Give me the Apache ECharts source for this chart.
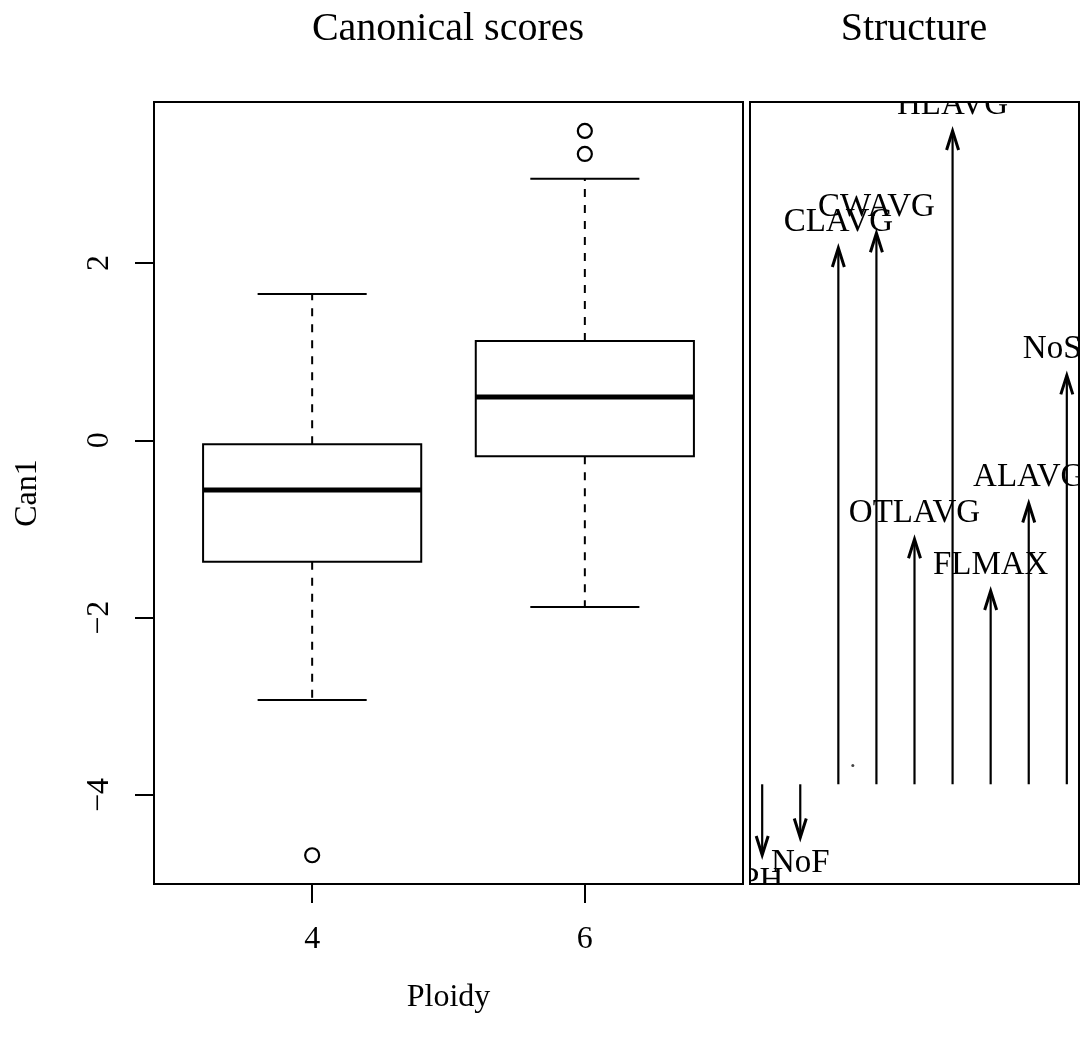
<!DOCTYPE html>
<html><head><meta charset="utf-8">
<script src="https://cdn.jsdelivr.net/npm/echarts@6/dist/echarts.min.js"></script>
<style>html,body{margin:0;padding:0;background:#fff}#c{width:1081px;height:1038px}</style>
</head><body><div id="c"></div>
<script>
// ---- data ----
const ploidyLevels = ['4', '6'];
const whiskerLow  = [-2.93, -1.88];
const q1          = [-1.37, -0.18];
const medians     = [-0.56, 0.49];
const q3          = [-0.045, 1.12];
const whiskerHigh = [1.65, 2.95];
const outlierGroup  = [0, 1, 1];
const outlierValues = [-4.68, 3.23, 3.49];
const yTicks = [-4, -2, 0, 2];

const structVars = ['PH', 'NoF', 'CLAVG', 'CWAVG', 'OTLAVG', 'HLAVG', 'FLMAX', 'ALAVG', 'NoSM'];
const structCoef = [-0.101, -0.076, 0.766, 0.787, 0.350, 0.933, 0.276, 0.401, 0.584];
const originDot = [[3.38, 0.027]];

// ---- build ----
const FONT = 'Liberation Serif';
const boxData = ploidyLevels.map((p, i) => [i + 1, whiskerLow[i], q1[i], medians[i], q3[i], whiskerHigh[i]]);
const outlierData = outlierValues.map((v, i) => [outlierGroup[i] + 1, v]);
const structData = structVars.map((n, i) => [i + 1, structCoef[i]]);

function renderBox(params, api) {
  const x = api.value(0), wl = api.value(1), lo = api.value(2), md = api.value(3), hi = api.value(4), wh = api.value(5);
  const bw = 0.4, sw = 0.2;
  const p = (a, b) => api.coord([a, b]);
  const ln = (a, b, w, dash) => ({
    type: 'line',
    shape: { x1: a[0], y1: a[1], x2: b[0], y2: b[1] },
    style: { stroke: '#000', lineWidth: w, lineDash: dash || null }
  });
  const tl = p(x - bw, hi), br = p(x + bw, lo);
  return {
    type: 'group',
    children: [
      ln(p(x, hi), p(x, wh), 2, [8, 8]),
      ln(p(x, lo), p(x, wl), 2, [8, 8]),
      ln(p(x - sw, wh), p(x + sw, wh), 2),
      ln(p(x - sw, wl), p(x + sw, wl), 2),
      { type: 'rect', shape: { x: tl[0], y: tl[1], width: br[0] - tl[0], height: br[1] - tl[1] },
        style: { stroke: '#000', lineWidth: 2, fill: 'none' } },
      ln(p(x - bw, md), p(x + bw, md), 5)
    ]
  };
}

function renderArrow(params, api) {
  const x = api.value(0), v = api.value(1);
  const name = structVars[params.dataIndex];
  const b = api.coord([x, 0]), t = api.coord([x, v]);
  const dir = v >= 0 ? 1 : -1;
  const hl = 19, hw = 6;
  const wy = t[1] + dir * hl;
  return {
    type: 'group',
    children: [
      { type: 'line', shape: { x1: b[0], y1: b[1], x2: t[0], y2: t[1] }, style: { stroke: '#000', lineWidth: 2.2 } },
      { type: 'polyline', shape: { points: [[t[0] - hw, wy], [t[0], t[1]], [t[0] + hw, wy]] },
        style: { stroke: '#000', lineWidth: 3, fill: 'none', lineJoin: 'miter' } },
      { type: 'text', x: t[0], y: t[1] - dir * 26,
        style: { text: name, fontSize: 33, fontFamily: FONT, fill: '#000', align: 'center', verticalAlign: 'middle' } }
    ]
  };
}

const chart = echarts.init(document.getElementById('c'));
chart.setOption({
  animation: false,
  backgroundColor: '#fff',
  graphic: [
    { type: 'text', x: 448, y: 29, style: { text: 'Canonical scores', fontSize: 40, fontFamily: FONT, fill: '#000', align: 'center', verticalAlign: 'middle' } },
    { type: 'text', x: 914, y: 29, style: { text: 'Structure', fontSize: 40, fontFamily: FONT, fill: '#000', align: 'center', verticalAlign: 'middle' } }
  ],
  grid: [
    { left: 154, top: 102, width: 589, height: 782, show: true, borderColor: '#000', borderWidth: 2, backgroundColor: 'transparent' },
    { left: 750, top: 102, width: 329, height: 782, show: true, borderColor: '#000', borderWidth: 2, backgroundColor: 'transparent' }
  ],
  xAxis: [
    { type: 'value', gridIndex: 0, min: 0.42, max: 2.58,
      name: 'Ploidy', nameLocation: 'middle', nameGap: 98,
      nameTextStyle: { fontSize: 32, fontFamily: FONT, color: '#000' },
      axisLine: { show: true, onZero: false, lineStyle: { color: '#000', width: 2 } },
      axisTick: { show: true, length: 19, lineStyle: { color: '#000', width: 2 }, customValues: [1, 2] },
      axisLabel: { show: true, margin: 40, fontSize: 32, fontFamily: FONT, color: '#000', customValues: [1, 2],
        formatter: v => ploidyLevels[Math.round(v) - 1] },
      splitLine: { show: false } },
    { type: 'value', gridIndex: 1, min: 0.68, max: 9.32, show: false, splitLine: { show: false } }
  ],
  yAxis: [
    { type: 'value', gridIndex: 0, min: -5.004, max: 3.816,
      name: 'Can1', nameLocation: 'middle', nameGap: 110, nameRotate: 90,
      nameTextStyle: { fontSize: 32, fontFamily: FONT, color: '#000' },
      axisLine: { show: true, onZero: false, lineStyle: { color: '#000', width: 2 } },
      axisTick: { show: true, length: 19, lineStyle: { color: '#000', width: 2 }, customValues: yTicks },
      axisLabel: { show: true, rotate: 90, margin: 38, fontSize: 32, fontFamily: FONT, color: '#000', customValues: yTicks,
        formatter: v => (v < 0 ? '\u2212' + Math.abs(v) : String(v)) },
      splitLine: { show: false } },
    { type: 'value', gridIndex: 1, min: -0.1424, max: 0.9744, show: false, splitLine: { show: false } }
  ],
  series: [
    { type: 'custom', xAxisIndex: 0, yAxisIndex: 0, renderItem: renderBox, data: boxData, silent: true },
    { type: 'scatter', xAxisIndex: 0, yAxisIndex: 0, data: outlierData, symbol: 'circle', symbolSize: 14,
      itemStyle: { color: 'rgba(0,0,0,0)', borderColor: '#000', borderWidth: 2.2, opacity: 1 }, silent: true },
    { type: 'custom', xAxisIndex: 1, yAxisIndex: 1, renderItem: renderArrow, data: structData, clip: true, silent: true },
    { type: 'scatter', xAxisIndex: 1, yAxisIndex: 1, data: originDot, symbol: 'circle', symbolSize: 3,
      itemStyle: { color: '#444', opacity: 1 }, silent: true }
  ]
});
</script>
</body></html>
